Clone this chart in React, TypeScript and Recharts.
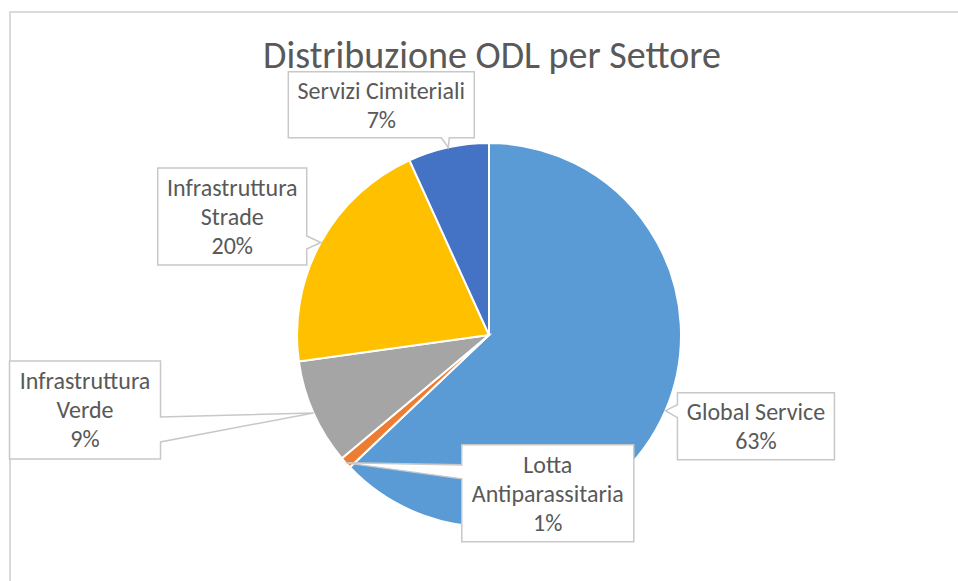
import React from 'react';
import { PieChart, Pie, Cell } from 'recharts';

const categories = [
  'Global Service',
  'Lotta Antiparassitaria',
  'Infrastruttura Verde',
  'Infrastruttura Strade',
  'Servizi Cimiteriali',
];
const labelLines = [
  ['Global Service'],
  ['Lotta', 'Antiparassitaria'],
  ['Infrastruttura', 'Verde'],
  ['Infrastruttura', 'Strade'],
  ['Servizi Cimiteriali'],
];
const values = [62.9, 1.0, 8.9, 20.4, 6.8];
const colors = ['#5B9BD5', '#ED7D31', '#A5A5A5', '#FFC000', '#4472C4'];
const title = 'Distribuzione ODL per Settore';

// callout box layout relative to the slice anchor point (style, not data)
const calloutLayout = [
  { dx: 12, dy: -18, w: 157, h: 67, side: 'left', b0: 12, b1: 25 },
  { dx: 116, dy: -18, w: 172, h: 97, side: 'left', b0: 20, b1: 34 },
  { dx: -304, dy: -52, w: 151, h: 98, side: 'right', b0: 56, b1: 81 },
  { dx: -163, dy: -74.5, w: 149, h: 97, side: 'right', b0: 68, b1: 81 },
  { dx: -160, dy: -75.6, w: 186, h: 66, side: 'bottom', b0: 153, b1: 161 },
];

const FONT = "Carlito, 'Liberation Sans Narrow', 'Open Sans', sans-serif";
const TEXT = '#595959';
const RAD = Math.PI / 180;

const data = categories.map((name, i) => ({ name, value: values[i] }));

function calloutPath(x0: number, y0: number, w: number, h: number, side: string, b0: number, b1: number, tx: number, ty: number) {
  const x1 = x0 + w;
  const y1 = y0 + h;
  const pts: [number, number][] = [];
  pts.push([x0, y0]);
  pts.push([x1, y0]);
  if (side === 'right') {
    pts.push([x1, y0 + b0]);
    pts.push([tx, ty]);
    pts.push([x1, y0 + b1]);
  }
  pts.push([x1, y1]);
  if (side === 'bottom') {
    pts.push([x0 + b1, y1]);
    pts.push([tx, ty]);
    pts.push([x0 + b0, y1]);
  }
  pts.push([x0, y1]);
  if (side === 'left') {
    pts.push([x0, y0 + b1]);
    pts.push([tx, ty]);
    pts.push([x0, y0 + b0]);
  }
  return 'M' + pts.map((p) => `${p[0]},${p[1]}`).join('L') + 'Z';
}

const renderCallout = (props: any) => {
  const { cx, cy, midAngle, outerRadius, index, percent } = props;
  const tx = cx + outerRadius * Math.cos(-midAngle * RAD);
  const ty = cy + outerRadius * Math.sin(-midAngle * RAD);
  const L = calloutLayout[index];
  const x0 = tx + L.dx;
  const y0 = ty + L.dy;
  const lines = [...labelLines[index], `${Math.round(percent * 100)}%`];
  const lh = 29;
  const centerY = y0 + L.h / 2;
  const startY = centerY - ((lines.length - 1) * lh) / 2;
  return (
    <g key={`callout-${index}`}>
      <path
        d={calloutPath(x0, y0, L.w, L.h, L.side, L.b0, L.b1, tx, ty)}
        fill="#FFFFFF"
        stroke="#C8C8C8"
        strokeWidth={1.5}
      />
      {lines.map((t, k) => (
        <text
          key={k}
          x={x0 + L.w / 2}
          y={startY + k * lh}
          textAnchor="middle"
          dominantBaseline="central"
          fontFamily={FONT}
          fontSize={24}
          fill={TEXT}
        >
          {t}
        </text>
      ))}
    </g>
  );
};

export default function App() {
  return (
    <div style={{ position: 'absolute', left: 0, top: 0, width: 958, height: 581, background: '#fff', overflow: 'hidden' }}>
      <div
        style={{
          position: 'absolute',
          left: 9,
          top: 11,
          width: 1000,
          height: 1000,
          borderTop: '2px solid #DADADA',
          borderLeft: '2px solid #DADADA',
          boxSizing: 'border-box',
        }}
      />
      <div
        style={{
          position: 'absolute',
          left: 192,
          width: 600,
          top: 32,
          textAlign: 'center',
          fontFamily: FONT,
          fontSize: 38,
          lineHeight: '46px',
          color: TEXT,
        }}
      >
        {title}
      </div>
      <div style={{ position: 'absolute', left: 0, top: 0 }}>
        <PieChart width={958} height={581} margin={{ top: 0, right: 0, bottom: 0, left: 0 }}>
          <Pie
            data={data}
            dataKey="value"
            nameKey="name"
            cx={489}
            cy={335}
            outerRadius={192}
            startAngle={90}
            endAngle={-270}
            stroke="#FFFFFF"
            strokeWidth={2}
            isAnimationActive={false}
            label={renderCallout}
            labelLine={false}
          >
            {data.map((d, i) => (
              <Cell key={d.name} fill={colors[i]} />
            ))}
          </Pie>
        </PieChart>
      </div>
    </div>
  );
}
